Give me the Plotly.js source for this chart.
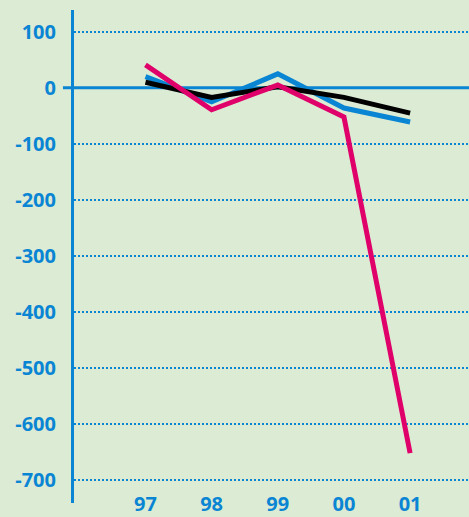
<!DOCTYPE html>
<html><head><meta charset="utf-8">
<script src="https://cdn.plot.ly/plotly-3.0.1.min.js"></script>
<style>html,body{margin:0;padding:0;background:#dcebd4;}</style>
</head><body><div id="c" style="width:469px;height:517px;"></div>
<script>
const years = ['97','98','99','00','01'];
const pinkVals = [41, -39, 5, -52, -652];
const blueVals = [20, -25, 25, -36, -61];
const blackVals = [10, -17, 2, -17, -45];
const yTicks = [100, 0, -100, -200, -300, -400, -500, -600, -700];

const BLUE = '#0a85d3';
const xIdx = years.map((_, i) => i);
function tr(vals, color) {
  return {x: xIdx, y: vals, type: 'scatter', mode: 'lines',
    line: {color: color, width: 5}, hoverinfo: 'skip'};
}
const data = [tr(blueVals, BLUE), tr(blackVals, '#000000'), tr(pinkVals, '#e0006a')];
const layout = {
  width: 469, height: 517,
  margin: {l: 74, r: 0, t: 10, b: 14},
  paper_bgcolor: '#dcebd4', plot_bgcolor: '#dcebd4',
  showlegend: false,
  font: {family: '"Open Sans", sans-serif', color: BLUE},
  xaxis: {range: [-1.08, 4.89], tickvals: xIdx, ticktext: years,
    showgrid: false, zeroline: false, showline: false, ticks: '',
    ticklabelstandoff: -13,
    tickfont: {size: 20, color: BLUE, weight: 'bold'}},
  yaxis: {range: [-741, 139], tickvals: yTicks,
    ticktext: yTicks.map(String),
    showgrid: true, gridcolor: BLUE, gridwidth: 1.5, griddash: '2px,2px',
    zeroline: false, showline: true, linecolor: BLUE, linewidth: 3,
    ticks: '', ticklabelstandoff: 11,
    tickfont: {size: 20, color: BLUE, weight: 'bold'}},
  shapes: [
    {type: 'line', xref: 'paper', yref: 'y', x0: -0.028, x1: 1, y0: 0, y1: 0,
     line: {color: BLUE, width: 3}, layer: 'below'}
  ]
};
Plotly.newPlot('c', data, layout, {displayModeBar: false, staticPlot: true});
</script></body></html>
